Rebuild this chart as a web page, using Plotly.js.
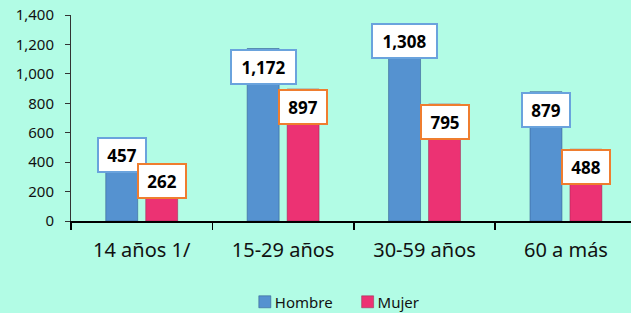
<!DOCTYPE html>
<html>
<head>
<meta charset="utf-8">
<script src="https://cdn.plot.ly/plotly-3.0.1.min.js"></script>
<style>
  html, body { margin: 0; padding: 0; background: #b2fce5; }
  #chart { width: 631px; height: 313px; }
</style>
</head>
<body>
<div id="chart"></div>
<script>
// ---- data ----
const categories = ['14 años 1/', '15-29 años', '30-59 años', '60 a más'];
const hombre = [457, 1172, 1308, 879];
const mujer = [262, 897, 795, 488];
const yTicks = [0, 200, 400, 600, 800, 1000, 1200, 1400];
// manual label lift (px) as in the reference
const liftHombre = [17, 0, 6, 0];
const liftMujer = [19, 0, 0, 0];

const BG = '#b2fce5';
const BLUE = '#5592d0';
const PINK = '#ec3273';
const BLUE_BORDER = '#6aa3dd';
const ORANGE_BORDER = '#ef7d2f';

const traces = [
  {
    type: 'bar', name: 'Hombre', x: categories, y: hombre,
    marker: { color: BLUE, line: { color: 'rgba(50,90,140,0.55)', width: 1 } },
    hoverinfo: 'skip'
  },
  {
    type: 'bar', name: 'Mujer', x: categories, y: mujer,
    marker: { color: PINK, line: { color: 'rgba(140,30,70,0.45)', width: 1 } },
    hoverinfo: 'skip'
  }
];

function fmt(v) { return v.toLocaleString('en-US'); }
function boxWidth(s) { return s.length > 3 ? 57 : 40; }

const annotations = [];
categories.forEach((c, i) => {
  const sH = fmt(hombre[i]);
  annotations.push({
    x: c, y: hombre[i], xref: 'x', yref: 'y', xshift: -20, yshift: liftHombre[i],
    xanchor: 'center', yanchor: 'top', showarrow: false, text: '<b>' + sH + '</b>',
    font: { family: 'Noto Sans, sans-serif', size: 17, color: '#000' },
    bgcolor: '#ffffff', bordercolor: BLUE_BORDER, borderwidth: 2, borderpad: 3,
    width: boxWidth(sH), height: 26, align: 'center', valign: 'middle'
  });
  const sM = fmt(mujer[i]);
  annotations.push({
    x: c, y: mujer[i], xref: 'x', yref: 'y', xshift: 20, yshift: liftMujer[i],
    xanchor: 'center', yanchor: 'top', showarrow: false, text: '<b>' + sM + '</b>',
    font: { family: 'Noto Sans, sans-serif', size: 17, color: '#000' },
    bgcolor: '#ffffff', bordercolor: ORANGE_BORDER, borderwidth: 2, borderpad: 3,
    width: boxWidth(sM), height: 26, align: 'center', valign: 'middle'
  });
});

const layout = {
  width: 631, height: 313,
  paper_bgcolor: BG, plot_bgcolor: BG,
  margin: { l: 71, r: 0, t: 15, b: 92 },
  barmode: 'group', bargap: 0.435, bargroupgap: 0.2,
  font: { family: 'Noto Sans, sans-serif', color: '#111' },
  xaxis: {
    type: 'category', range: [-0.5, 3.46],
    showline: true, linecolor: '#000', linewidth: 2,
    ticks: 'outside', tickson: 'boundaries', ticklen: 7, tickcolor: '#000', tickwidth: 1.5,
    tickfont: { size: 20, color: '#111' }, showgrid: false, zeroline: false,
    ticklabelstandoff: 10, fixedrange: true
  },
  yaxis: {
    range: [0, 1400], tickvals: yTicks, tickformat: ',d',
    showline: true, linecolor: '#333', linewidth: 1,
    ticks: 'outside', ticklen: 5, tickcolor: '#333',
    tickfont: { size: 15, color: '#111' }, showgrid: false, zeroline: false,
    ticklabelstandoff: 8, fixedrange: true
  },
  showlegend: true,
  legend: {
    orientation: 'h', xref: 'container', yref: 'container',
    x: 0.388, y: 0.035, xanchor: 'left', yanchor: 'middle',
    font: { size: 15, color: '#111' }, bgcolor: 'rgba(0,0,0,0)',
    itemwidth: 30, traceorder: 'normal'
  },
  annotations: annotations
};

Plotly.newPlot('chart', traces, layout, { displayModeBar: false, staticPlot: true }).then(function (gd) {
  // tighten the gap between legend swatch and its text, as in the reference
  gd.querySelectorAll('.legendtext').forEach(function (t) {
    const x = parseFloat(t.getAttribute('x')) || 40;
    t.setAttribute('x', x - 10);
  });
});
</script>
</body>
</html>
